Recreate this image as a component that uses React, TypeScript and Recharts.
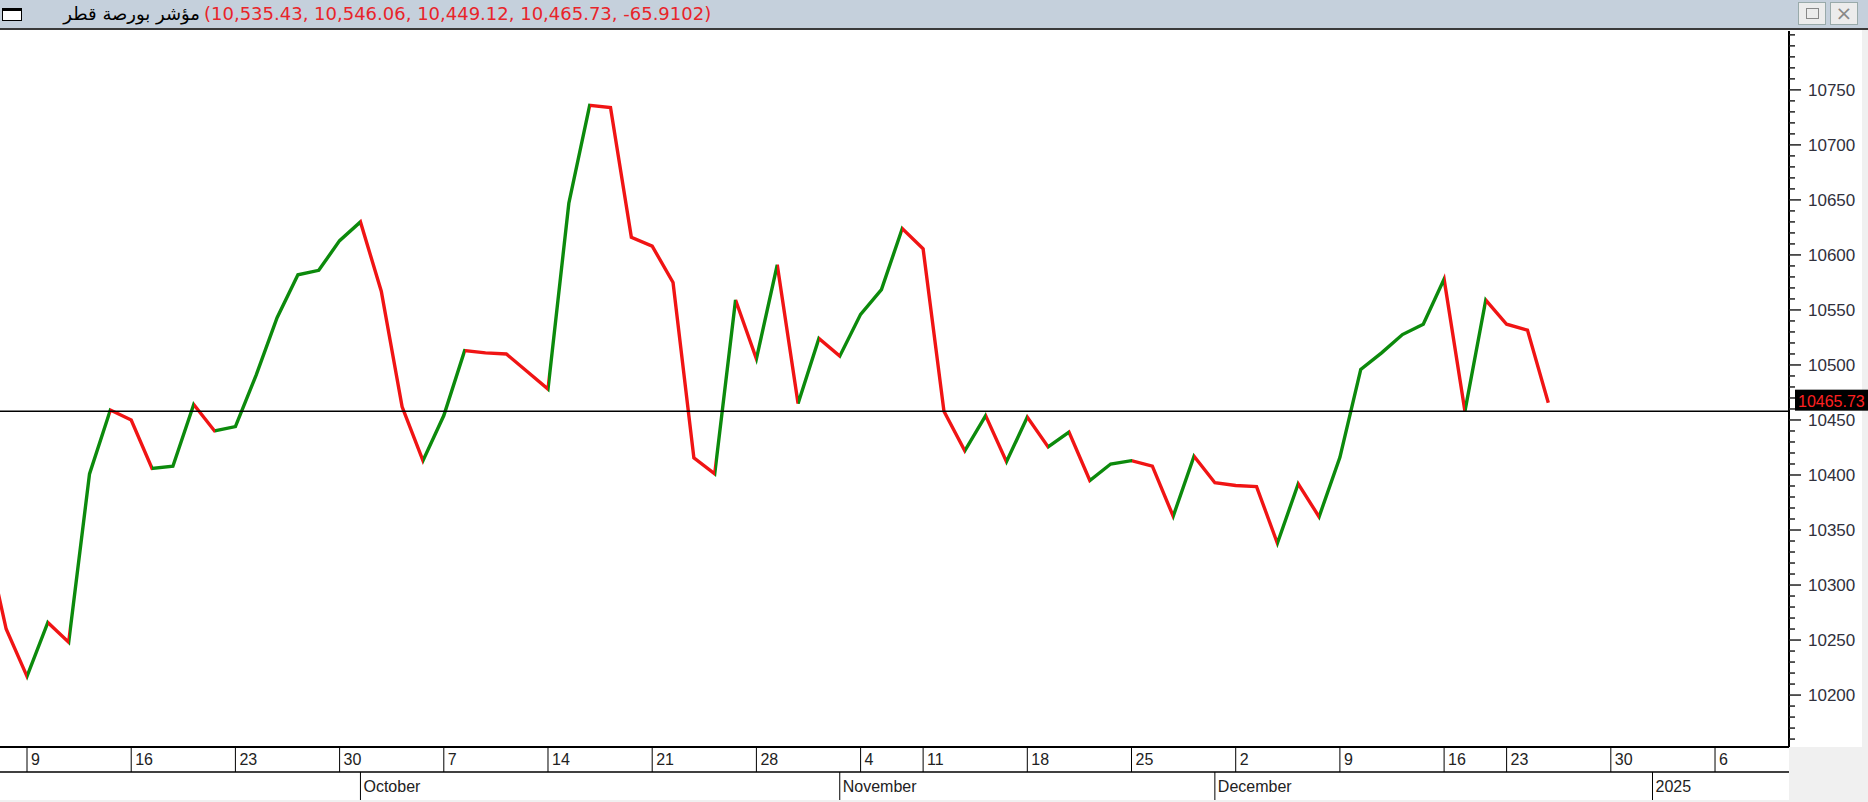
import React from "react";
import { LineChart, Line, XAxis, YAxis, ReferenceLine } from "recharts";

// closing values, one per trading session; session -2 sits just off the left edge
const FIRST_SESSION = -2;
const closes = [
  10346, 10260, 10217, 10266, 10248, 10401, 10459, 10450, 10406, 10408,
  10464, 10440, 10444, 10491, 10543, 10582, 10586, 10613, 10630, 10567,
  10462, 10413, 10454, 10513, 10511, 10510, 10494, 10478, 10647, 10736,
  10734, 10616, 10608, 10575, 10415.5, 10401, 10559, 10505.5, 10591, 10465,
  10524, 10508, 10546, 10568.5, 10624, 10605.5, 10458, 10422, 10454, 10412,
  10452.6, 10425.5, 10439, 10395, 10410, 10413, 10408, 10362.5, 10417, 10393,
  10390.5, 10389.5, 10338, 10392, 10362, 10416, 10496, 10511, 10527.6, 10537,
  10578, 10458, 10559, 10537, 10531.64, 10465.73,
];

const weekTicks = [0, 5, 10, 15, 20, 25, 30, 35, 40, 43, 48, 53, 58, 63, 68, 71, 76, 81];
const weekLabels = ["9", "16", "23", "30", "7", "14", "21", "28", "4", "11", "18", "25", "2", "9", "16", "23", "30", "6"];
const monthTicks = [16, 39, 57, 78];
const monthLabels = ["October", "November", "December", "2025"];
const majorPrices = [10200, 10250, 10300, 10350, 10400, 10450, 10500, 10550, 10600, 10650, 10700, 10750];
const levelLine = 10458;
const titleName = "مؤشر بورصة قطر";
const titleValues = "(10,535.43, 10,546.06, 10,449.12, 10,465.73, -65.9102)";

const X_DOMAIN: [number, number] = [-1.296, 84.55];
const Y_DOMAIN: [number, number] = [10152.8, 10803.5];
const UP = "#0c8a0c";
const DOWN = "#f01414";
const AXIS_FONT = "'Liberation Sans', Arial, sans-serif";

const rows = closes.map((close, k) => ({ s: FIRST_SESSION + k, close }));
const lastClose = closes[closes.length - 1];

// minor ticks every 10 points, majors get a label
const priceTicks: number[] = [];
for (let v = 10160; v <= 10800; v += 10) priceTicks.push(v);

const span = closes.length - 1;
const stops: { offset: number; color: string }[] = [];
for (let k = 1; k <= span; k++) {
  const color = closes[k] > closes[k - 1] ? UP : DOWN;
  stops.push({ offset: (k - 1) / span, color }, { offset: k / span, color });
}

function WeekTick(props: any) {
  const { x, y, payload } = props;
  const label = weekLabels[weekTicks.indexOf(payload.value)];
  return (
    <g>
      <line x1={x} x2={x} y1={y} y2={y + 25} stroke="#000" strokeWidth={1} />
      <text x={x + 4} y={y + 18} fontSize={16} fontFamily={AXIS_FONT} fill="#222">
        {label}
      </text>
    </g>
  );
}

function MonthTick(props: any) {
  const { x, y, payload } = props;
  const label = monthLabels[monthTicks.indexOf(payload.value)];
  return (
    <g>
      <line x1={x} x2={x} y1={y} y2={y + 28} stroke="#000" strokeWidth={1} />
      <text x={x + 3} y={y + 20} fontSize={16} fontFamily={AXIS_FONT} fill="#222">
        {label}
      </text>
    </g>
  );
}

function PriceTick(props: any) {
  const { x, y, payload } = props;
  const major = majorPrices.includes(payload.value);
  return (
    <g>
      <line x1={x} x2={x + (major ? 12 : 6)} y1={y} y2={y} stroke="#222" strokeWidth={1.5} />
      {major && (
        <text x={x + 19} y={y + 6} fontSize={17} fontFamily={AXIS_FONT} fill="#30303c">
          {payload.value}
        </text>
      )}
    </g>
  );
}

function LastLabel(props: any) {
  const vb = props.viewBox || {};
  const ax = vb.x + vb.width;
  const cy = vb.y - 2;
  return (
    <g>
      <rect x={ax + 6} y={cy - 11} width={74} height={21} fill="#000" />
      <text x={ax + 9} y={cy + 6} fontSize={16} fontFamily={AXIS_FONT} fill="#ff2020">
        {lastClose.toFixed(2)}
      </text>
    </g>
  );
}

function TitleBar() {
  return (
    <div
      style={{
        position: "absolute",
        left: 0,
        top: 0,
        width: 1868,
        height: 30,
        background: "#c5d0dc",
        borderBottom: "2px solid #3a3a3a",
        boxSizing: "border-box",
        fontFamily: "'DejaVu Sans', sans-serif",
        fontSize: 18,
      }}
    >
      <div
        style={{
          position: "absolute",
          left: 2,
          top: 8,
          width: 20,
          height: 13,
          background: "#fff",
          border: "1.5px solid #000",
          borderTopWidth: 3,
          boxSizing: "border-box",
        }}
      />
      <div
        style={{
          position: "absolute",
          left: 20,
          width: 180,
          top: 3,
          textAlign: "right",
          direction: "rtl",
          color: "#000",
        }}
      >
        {titleName}
      </div>
      <div style={{ position: "absolute", left: 204, top: 3, color: "#e8242a" }}>{titleValues}</div>
      <div
        style={{
          position: "absolute",
          left: 1798,
          top: 2,
          width: 28,
          height: 23,
          background: "#ececec",
          border: "1px solid #9aa",
          boxSizing: "border-box",
        }}
      >
        <div style={{ position: "absolute", left: 7, top: 5, width: 13, height: 11, border: "1.5px solid #888", boxSizing: "border-box" }} />
      </div>
      <div
        style={{
          position: "absolute",
          left: 1830,
          top: 2,
          width: 28,
          height: 23,
          background: "#ececec",
          border: "1px solid #9aa",
          boxSizing: "border-box",
          color: "#888",
          fontSize: 20,
          lineHeight: "21px",
          textAlign: "center",
          fontFamily: "'DejaVu Sans', sans-serif",
        }}
      >
        ×
      </div>
    </div>
  );
}

export default function App() {
  return (
    <div style={{ position: "absolute", left: 0, top: 0, width: 1868, height: 802, background: "#f0f0f0", overflow: "hidden" }}>
      <TitleBar />
      <div style={{ position: "absolute", left: 0, top: 30, width: 1862, height: 717, background: "#fff" }} />
      <div style={{ position: "absolute", left: 0, top: 747, width: 1789, height: 53, background: "#fff" }} />
      <div style={{ position: "absolute", left: 0, top: 31 }}>
        <LineChart width={1868} height={771} data={rows} margin={{ top: 0, right: 0, bottom: 0, left: 0 }}>
          <defs>
            <linearGradient id="dirStroke" x1="0" y1="0" x2="1" y2="0">
              {stops.map((st, i) => (
                <stop key={i} offset={st.offset} stopColor={st.color} />
              ))}
            </linearGradient>
          </defs>
          {/* week row sits against the plot, month row under it */}
          <XAxis
            xAxisId={0}
            dataKey="s"
            type="number"
            domain={X_DOMAIN}
            allowDataOverflow
            ticks={weekTicks}
            interval={0}
            height={25}
            tickSize={0}
            tickMargin={0}
            axisLine={{ stroke: "#000", strokeWidth: 2 }}
            tick={<WeekTick />}
          />
          <XAxis
            xAxisId={1}
            dataKey="s"
            type="number"
            domain={X_DOMAIN}
            allowDataOverflow
            ticks={monthTicks}
            interval={0}
            height={30}
            tickSize={0}
            tickMargin={0}
            axisLine={{ stroke: "#000", strokeWidth: 1.5 }}
            tick={<MonthTick />}
          />
          <YAxis
            orientation="right"
            width={79}
            type="number"
            domain={Y_DOMAIN}
            allowDataOverflow
            ticks={priceTicks}
            interval={0}
            tickSize={0}
            tickMargin={0}
            axisLine={{ stroke: "#000", strokeWidth: 2 }}
            tick={<PriceTick />}
          />
          <Line
            xAxisId={0}
            type="linear"
            dataKey="close"
            stroke="url(#dirStroke)"
            strokeWidth={3.4}
            dot={false}
            activeDot={false}
            isAnimationActive={false}
          />
          <ReferenceLine xAxisId={0} y={levelLine} stroke="#000" strokeWidth={1.5} />
          <ReferenceLine xAxisId={0} y={lastClose} stroke="none" label={(p: any) => <LastLabel {...p} />} />
        </LineChart>
      </div>
    </div>
  );
}
